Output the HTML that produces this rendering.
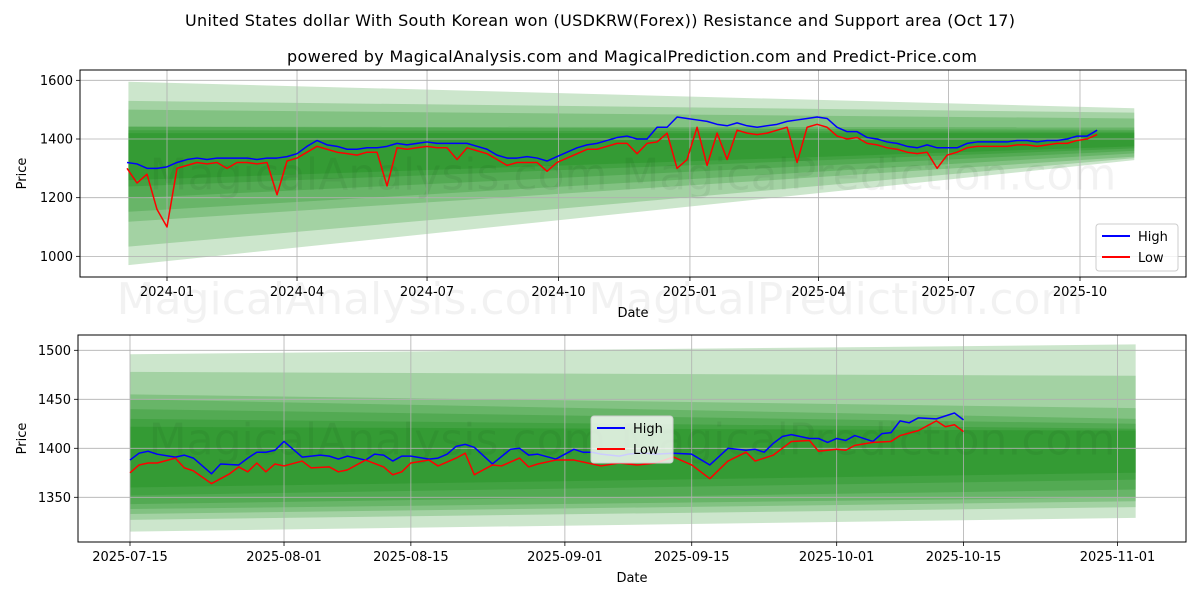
<!DOCTYPE html>
<html><head><meta charset="utf-8"><style>
body{margin:0;background:#fff}
svg{display:block;font-family:"DejaVu Sans","Liberation Sans",sans-serif}
</style></head><body>
<svg id="c" width="1200" height="600" viewBox="0 0 1200 600">
<text x="600" y="26" text-anchor="middle" font-size="16" textLength="830">United States dollar With South Korean won (USDKRW(Forex)) Resistance and Support area (Oct 17)</text>
<text x="632" y="62" text-anchor="middle" font-size="16" textLength="690">powered by MagicalAnalysis.com and MagicalPrediction.com and Predict-Price.com</text>
<g id="top"></g>
<g id="bot"></g>
<text x="600" y="314" text-anchor="middle" font-size="44" fill="#000" fill-opacity="0.05">MagicalAnalysis.com   MagicalPrediction.com</text>
</svg>
<script>
// ---- top chart data (weekly, starting 2023-12-04, step 7 days) ----
const topStart = -28;
const topStep = 7;
const topHigh = [1320,1315,1300,1300, 1305,1320,1330,1335,1330, 1335,1335,1335,1335, 1330,1335,1335,1340, 1350,1375,1395,1380,1375, 1365,1365,1370,1370, 1375,1385,1380,1385, 1390,1385,1385,1385,1385, 1375,1365,1345,1335, 1335,1340,1335,1325, 1340,1355,1370,1380,1385, 1395,1405,1410,1400, 1400,1440,1440,1475, 1470,1465,1460,1450,1445, 1455,1445,1440,1445, 1450,1460,1465,1470, 1475,1470,1440,1425,1425, 1405,1400,1390,1385, 1375,1370,1380,1370, 1370,1370,1385,1390,1390, 1390,1390,1395,1395, 1390,1395,1395,1400,1410, 1410,1430];
const topLow = [1300,1250,1280,1160, 1100,1300,1310,1320,1315, 1320,1300,1320,1320, 1315,1320,1210,1325, 1335,1355,1375,1365,1355, 1350,1345,1355,1355, 1240,1370,1365,1370, 1375,1370,1370,1330,1370, 1360,1350,1330,1310, 1320,1320,1320,1290, 1320,1335,1350,1365,1365, 1375,1385,1385,1350, 1385,1390,1420,1300, 1330,1440,1310,1420,1330, 1430,1420,1415,1420, 1430,1440,1320,1440, 1450,1440,1410,1400,1405, 1385,1380,1370,1365, 1355,1350,1355,1300, 1345,1355,1370,1375,1375, 1375,1375,1380,1380, 1375,1380,1385,1385,1395, 1400,1415];
const topYTicks = [1000,1200,1400,1600];
const topXTickLabels = ["2024-01","2024-04","2024-07","2024-10","2025-01","2025-04","2025-07","2025-10"];
const topXTickDays = [0,91,182,274,366,456,547,639];
const topBandDays = [-27,677];
const topBandUpperL = [1595,1530,1500,1442,1442,1430,1420];
const topBandUpperR = [1505,1490,1470,1440,1431,1425,1420];
const topBandLowerL = [970,1033,1118,1152,1198,1238,1260];
const topBandLowerR = [1328,1335,1340,1351,1360,1368,1375];

// ---- bottom chart data (day offsets from 2025-07-15) ----
const botHighDays = [0,1,2,3,5,6,7,9,10,12,13,14,15,16,17,19,21,22,23,24,26,27,28,29,30,31,33,34,35,36,37,38,40,42,43,44,45,47,48,49,50,51,52,53,54,55,56,57,58,60,62,64,66,68,69,70,71,72,73,75,76,77,78,79,80,82,83,84,85,86,87,89,91,92];
const botHigh = [1388,1395,1397,1394,1391,1393,1390,1374,1384,1383,1390,1396,1396,1398,1407,1391,1393,1392,1389,1392,1388,1394,1393,1387,1392,1392,1389,1390,1394,1402,1404,1401,1384,1399,1400,1393,1394,1389,1394,1399,1396,1396,1394,1393,1392,1394,1395,1395,1394,1395,1394,1383,1400,1398,1399,1396,1405,1412,1414,1410,1410,1406,1410,1408,1413,1407,1415,1416,1428,1426,1431,1430,1436,1429];
const botLowDays = [0,1,2,3,5,6,7,9,11,12,13,14,15,16,17,19,20,22,23,24,26,28,29,30,31,33,34,36,37,38,40,41,43,44,45,47,49,50,52,54,56,58,60,62,64,66,68,69,71,73,75,76,78,79,80,82,84,85,87,89,90,91,92];
const botLow = [1375,1383,1385,1385,1390,1380,1377,1364,1374,1381,1376,1385,1376,1384,1382,1387,1380,1381,1376,1378,1388,1381,1373,1376,1385,1388,1382,1390,1395,1373,1383,1382,1390,1381,1384,1388,1388,1386,1382,1385,1383,1385,1391,1383,1369,1387,1396,1387,1393,1407,1408,1397,1399,1398,1403,1406,1407,1413,1418,1428,1422,1424,1417];
const botYTicks = [1350,1400,1450,1500];
const botXTickLabels = ["2025-07-15","2025-08-01","2025-08-15","2025-09-01","2025-09-15","2025-10-01","2025-10-15","2025-11-01"];
const botXTickDays = [0,17,31,48,62,78,92,109];
const botBandDays = [0,111];
const botBandUpperL = [1496,1478,1455,1450,1440,1430,1422];
const botBandUpperR = [1506,1474,1441,1430,1425,1420,1418];
const botBandLowerL = [1315,1327,1333,1338,1343,1352,1360];
const botBandLowerR = [1329,1340,1346,1350,1358,1368,1375];

const NS = "http://www.w3.org/2000/svg";
function mk(parent, tag, attrs){const e=document.createElementNS(NS,tag);for(const k in attrs)e.setAttribute(k,attrs[k]);parent.appendChild(e);return e;}

function panel(g, box, xs, ys, cfg){
  const {x0,x1,y0,y1}=box;
  for(let i=0;i<cfg.bUL.length;i++){
    const xa=xs(cfg.bDays[0]), xb=xs(cfg.bDays[1]);
    const p=mk(g,"polygon",{points:`${xa},${ys(cfg.bUL[i])} ${xb},${ys(cfg.bUR[i])} ${xb},${ys(cfg.bLR[i])} ${xa},${ys(cfg.bLL[i])}`,fill:"rgb(0,128,0)","fill-opacity":"0.2"});
    
    
  }
  cfg.yt.forEach(v=>{const y=ys(v);
    const l=mk(g,"line",{x1:x0,x2:x1,y1:y,y2:y,stroke:"#b0b0b0","stroke-width":"0.8"});
    
    
    mk(g,"line",{x1:x0-4,x2:x0,y1:y,y2:y,stroke:"#000","stroke-width":"0.8"});
    const t=mk(g,"text",{x:x0-7,y:y+4.5,"text-anchor":"end","font-size":"13"});t.textContent=v;
    
    
  });
  cfg.xtd.forEach((d,i)=>{const x=xs(d);
    const l=mk(g,"line",{x1:x,x2:x,y1:y0,y2:y1,stroke:"#b0b0b0","stroke-width":"0.8"});
    
    
    mk(g,"line",{x1:x,x2:x,y1:y1,y2:y1+4,stroke:"#000","stroke-width":"0.8"});
    const t=mk(g,"text",{x:x,y:y1+19,"text-anchor":"middle","font-size":"13"});t.textContent=cfg.xtl[i];
    
    
  });
  const w=mk(g,"text",{x:(x0+x1)/2,y:(y0+y1)/2+16,"text-anchor":"middle","font-size":"44","fill":"#000","fill-opacity":"0.05"});
  w.textContent="MagicalAnalysis.com   MagicalPrediction.com";
  
  
  const hp=cfg.hd.map((d,i)=>xs(d)+","+ys(cfg.h[i])).join(" ");
  const lp=cfg.ld.map((d,i)=>xs(d)+","+ys(cfg.l[i])).join(" ");
  const hl=mk(g,"polyline",{points:hp,fill:"none",stroke:"#0000ff","stroke-width":"1.5","stroke-linejoin":"round"});
  
  
  const ll=mk(g,"polyline",{points:lp,fill:"none",stroke:"#ff0000","stroke-width":"1.5","stroke-linejoin":"round"});
  
  
  const f=mk(g,"rect",{x:x0,y:y0,width:x1-x0,height:y1-y0,fill:"none",stroke:"#000","stroke-width":"1"});
  
  
  const xt=mk(g,"text",{x:(x0+x1)/2,y:y1+40,"text-anchor":"middle","font-size":"13"});xt.textContent="Date";
  
  
  const yt=mk(g,"text",{x:0,y:0,"text-anchor":"middle","font-size":"13",transform:`translate(26,${(y0+y1)/2}) rotate(-90)`});yt.textContent="Price";
  
  
  const lg=mk(g,"g",{});
  
  
  const L=cfg.leg;
  mk(lg,"rect",{x:L[0],y:L[1],width:82,height:47,rx:3,fill:"#fff","fill-opacity":"0.8",stroke:"#ccc"});
  [["High","#0000ff"],["Low","#ff0000"]].forEach((e,i)=>{
    const yy=L[1]+12+i*21;
    mk(lg,"line",{x1:L[0]+6,x2:L[0]+34,y1:yy,y2:yy,stroke:e[1],"stroke-width":"2"});
    const t=mk(lg,"text",{x:L[0]+42,y:yy+5,"font-size":"13"});t.textContent=e[0];
    
    
  });
}

const tBox={x0:80,x1:1186,y0:70,y1:277};
const txs=d=>167+(d)*(1080-167)/639;
const tys=v=>139-(v-1400)*(58.67/200);
const topDays=topHigh.map((_,i)=>topStart+i*topStep);
panel(document.getElementById("top"),tBox,txs,tys,{bDays:topBandDays,bUL:topBandUpperL,bUR:topBandUpperR,bLL:topBandLowerL,bLR:topBandLowerR,yt:topYTicks,xtd:topXTickDays,xtl:topXTickLabels,hd:topDays,h:topHigh,ld:topDays,l:topLow,leg:[1096,224]});

const bBox={x0:78,x1:1186,y0:335,y1:542};
const bxs=d=>130+d*9.06;
const bys=v=>448.3-(v-1400)*0.98;
panel(document.getElementById("bot"),bBox,bxs,bys,{bDays:botBandDays,bUL:botBandUpperL,bUR:botBandUpperR,bLL:botBandLowerL,bLR:botBandLowerR,yt:botYTicks,xtd:botXTickDays,xtl:botXTickLabels,hd:botHighDays,h:botHigh,ld:botLowDays,l:botLow,leg:[591,416]});
</script>
</body></html>
